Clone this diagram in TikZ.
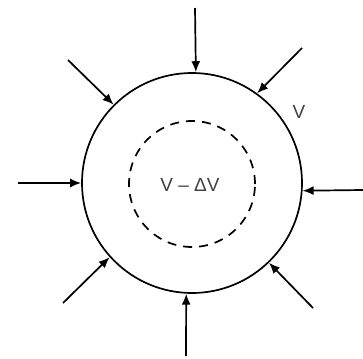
\documentclass[tikz,border=0pt]{standalone}
\usepackage{fontspec}
\setmainfont{Liberation Sans}
\usetikzlibrary{arrows.meta}
\begin{document}
\begin{tikzpicture}[x=1pt,y=-1pt,
  ring/.style={circle,draw,line width=1.7pt,inner sep=0pt},
  push/.style={line width=1.7pt,-{Latex[length=11pt,width=9pt]}},
  lbl/.style={text=black!75,font=\fontsize{19}{22}\selectfont}]
\useasboundingbox (0,0) rectangle (363,358);
\node[ring,minimum size=220pt] (outer) at (192,183) {};
\node[ring,dashed,dash pattern=on 9pt off 7pt,minimum size=126pt] (inner) at (192,184) {};
\node[lbl] (dv) at (190,185) {V – ΔV};
\node[lbl] (v) at (299,112) {V};
\coordinate (s1) at (195,8);
\coordinate (s2) at (302,48);
\coordinate (s3) at (68,60);
\coordinate (s4) at (18,183);
\coordinate (s5) at (363,190);
\coordinate (s6) at (63,303);
\coordinate (s7) at (186,356);
\coordinate (s8) at (313,308);
\draw[push] (s1) -- (outer.88);
\draw[push] (s2) -- (outer.54);
\draw[push] (s3) -- (outer.135);
\draw[push] (s4) -- (outer.180);
\draw[push] (s5) -- (outer.-4);
\draw[push] (s6) -- (outer.222);
\draw[push] (s7) -- (outer.-93);
\draw[push] (s8) -- (outer.-46);
\end{tikzpicture}
\end{document}
